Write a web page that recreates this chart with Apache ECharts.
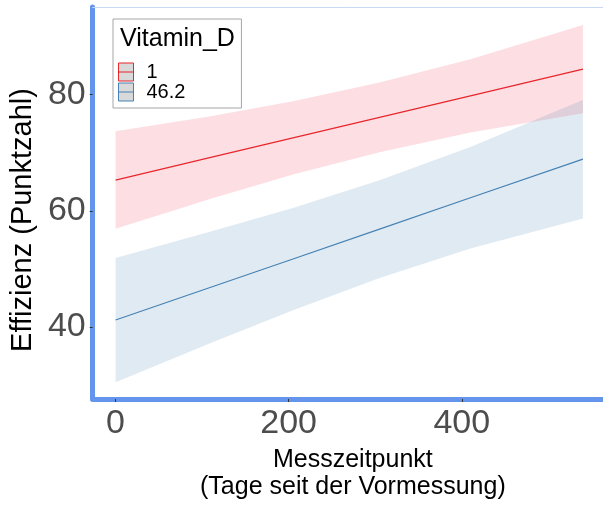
<!DOCTYPE html>
<html>
<head>
<meta charset="utf-8">
<script src="https://cdn.jsdelivr.net/npm/echarts@6/dist/echarts.min.js"></script>
<style>
  html, body { margin: 0; padding: 0; background: #fff; }
  #chart { width: 603px; height: 506px; }
</style>
</head>
<body>
<div id="chart"></div>
<script>
// Messzeitpunkt (Tage) where the values were read
const days = [0, 110, 205, 305, 410, 540];

// Vitamin_D = 1
const redFit = [65.3, 69.2, 72.55, 76.1, 79.8, 84.4];
const redLow = [56.9, 62.1, 66.25, 70.1, 73.5, 76.8];
const redHigh = [73.7, 76.3, 78.85, 82.1, 86.1, 92.0];

// Vitamin_D = 46.2
const blueFit = [41.2, 46.85, 51.7, 56.85, 62.25, 68.9];
const blueLow = [30.5, 37.25, 42.9, 48.45, 53.5, 58.7];
const blueHigh = [51.9, 56.45, 60.5, 65.25, 71.0, 79.1];

const xTicks = [0, 200, 400];
const yTicks = [40, 60, 80];

const RED = '#E8262B';
const BLUE = '#4682B4';
const FONT = 'Liberation Sans, Arial, Helvetica, sans-serif';
const X_MIN = -26.4, X_MAX = 563.2;

const pairs = (ys) => days.map((d, i) => [d, ys[i]]);

// confidence band drawn as one polygon (only on the first item)
const band = (low, high, fill) => ({
  type: 'custom',
  silent: true,
  data: days.map((d, i) => [d, low[i], high[i]]),
  encode: { x: 0, y: [1, 2] },
  renderItem: (params, api) => {
    if (params.dataIndex !== 0) return null;
    const upper = days.map((d, i) => api.coord([d, high[i]]));
    const lower = days.map((d, i) => api.coord([d, low[i]])).reverse();
    return {
      type: 'polygon',
      shape: { points: upper.concat(lower) },
      style: { fill: fill }
    };
  }
});

const chart = echarts.init(document.getElementById('chart'));

const option = {
  animation: false,
  textStyle: { fontFamily: FONT },
  grid: { left: 90, right: 0, top: 7, bottom: 100.7 },
  title: {
    text: 'Vitamin_D',
    left: 115, top: 22, z: 10,
    textStyle: { fontFamily: FONT, fontSize: 25, fontWeight: 'normal', color: '#000' }
  },
  legend: {
    orient: 'vertical',
    left: 113, top: 19,
    padding: [43, 56, 6, 5],
    backgroundColor: '#fff',
    borderColor: '#A6A6A6', borderWidth: 1,
    itemWidth: 15, itemHeight: 18, itemGap: 0,
    textStyle: { fontFamily: FONT, fontSize: 20, color: '#000', padding: [0, 0, 0, 8] },
    data: [
      { name: '1', icon: 'path://M0,0H15V18H0ZM0,9H15',
        itemStyle: { color: '#D9D9D9', borderColor: RED, borderWidth: 1 } },
      { name: '46.2', icon: 'path://M0,0H15V18H0ZM0,9H15',
        itemStyle: { color: '#D9D9D9', borderColor: BLUE, borderWidth: 1 } }
    ]
  },
  xAxis: [
    {
      type: 'value',
      min: X_MIN, max: X_MAX,
      splitLine: { show: false },
      axisLine: { show: true, onZero: false, lineStyle: { color: '#6495ED', width: 5 } },
      axisTick: { show: true, length: 3, customValues: xTicks, lineStyle: { color: '#333', width: 1 } },
      axisLabel: { customValues: xTicks, fontSize: 34, color: '#4D4D4D', margin: 8, fontFamily: FONT },
      name: 'Messzeitpunkt\n(Tage seit der Vormessung)',
      nameLocation: 'middle',
      nameGap: 47,
      nameTextStyle: { fontSize: 25, color: '#000', lineHeight: 27.5, fontFamily: FONT, padding: [0, 0, 0, 10] }
    },
    {
      // thin frame line on top of the panel
      type: 'value', position: 'top',
      min: X_MIN, max: X_MAX,
      splitLine: { show: false },
      axisLine: { show: true, onZero: false, lineStyle: { color: '#C9D8F5', width: 1 } },
      axisTick: { show: false },
      axisLabel: { show: false }
    }
  ],
  yAxis: {
    type: 'value',
    min: 27.6, max: 95.1,
    splitLine: { show: false },
    axisLine: { show: true, onZero: false, lineStyle: { color: '#6495ED', width: 5 } },
    axisTick: { show: true, length: 3, customValues: yTicks, lineStyle: { color: '#333', width: 1 } },
    axisLabel: { customValues: yTicks, fontSize: 34, color: '#4D4D4D', margin: 7, fontFamily: FONT },
    name: 'Effizienz (Punktzahl)',
    nameLocation: 'middle',
    nameGap: 44,
    nameTextStyle: { fontSize: 29, color: '#000', fontFamily: FONT, padding: [0, 34, 0, 0] }
  },
  series: [
    Object.assign({ name: '1 KI' }, band(redLow, redHigh, 'rgba(235,60,90,0.17)')),
    Object.assign({ name: '46.2 KI' }, band(blueLow, blueHigh, 'rgba(70,130,180,0.17)')),
    { name: '1', type: 'line', data: pairs(redFit), symbol: 'none', color: RED,
      lineStyle: { color: RED, width: 1.2 }, z: 5 },
    { name: '46.2', type: 'line', data: pairs(blueFit), symbol: 'none', color: BLUE,
      lineStyle: { color: BLUE, width: 1.2 }, z: 5 }
  ]
};

chart.setOption(option);
window.addEventListener('resize', () => chart.resize());
</script>
</body>
</html>
